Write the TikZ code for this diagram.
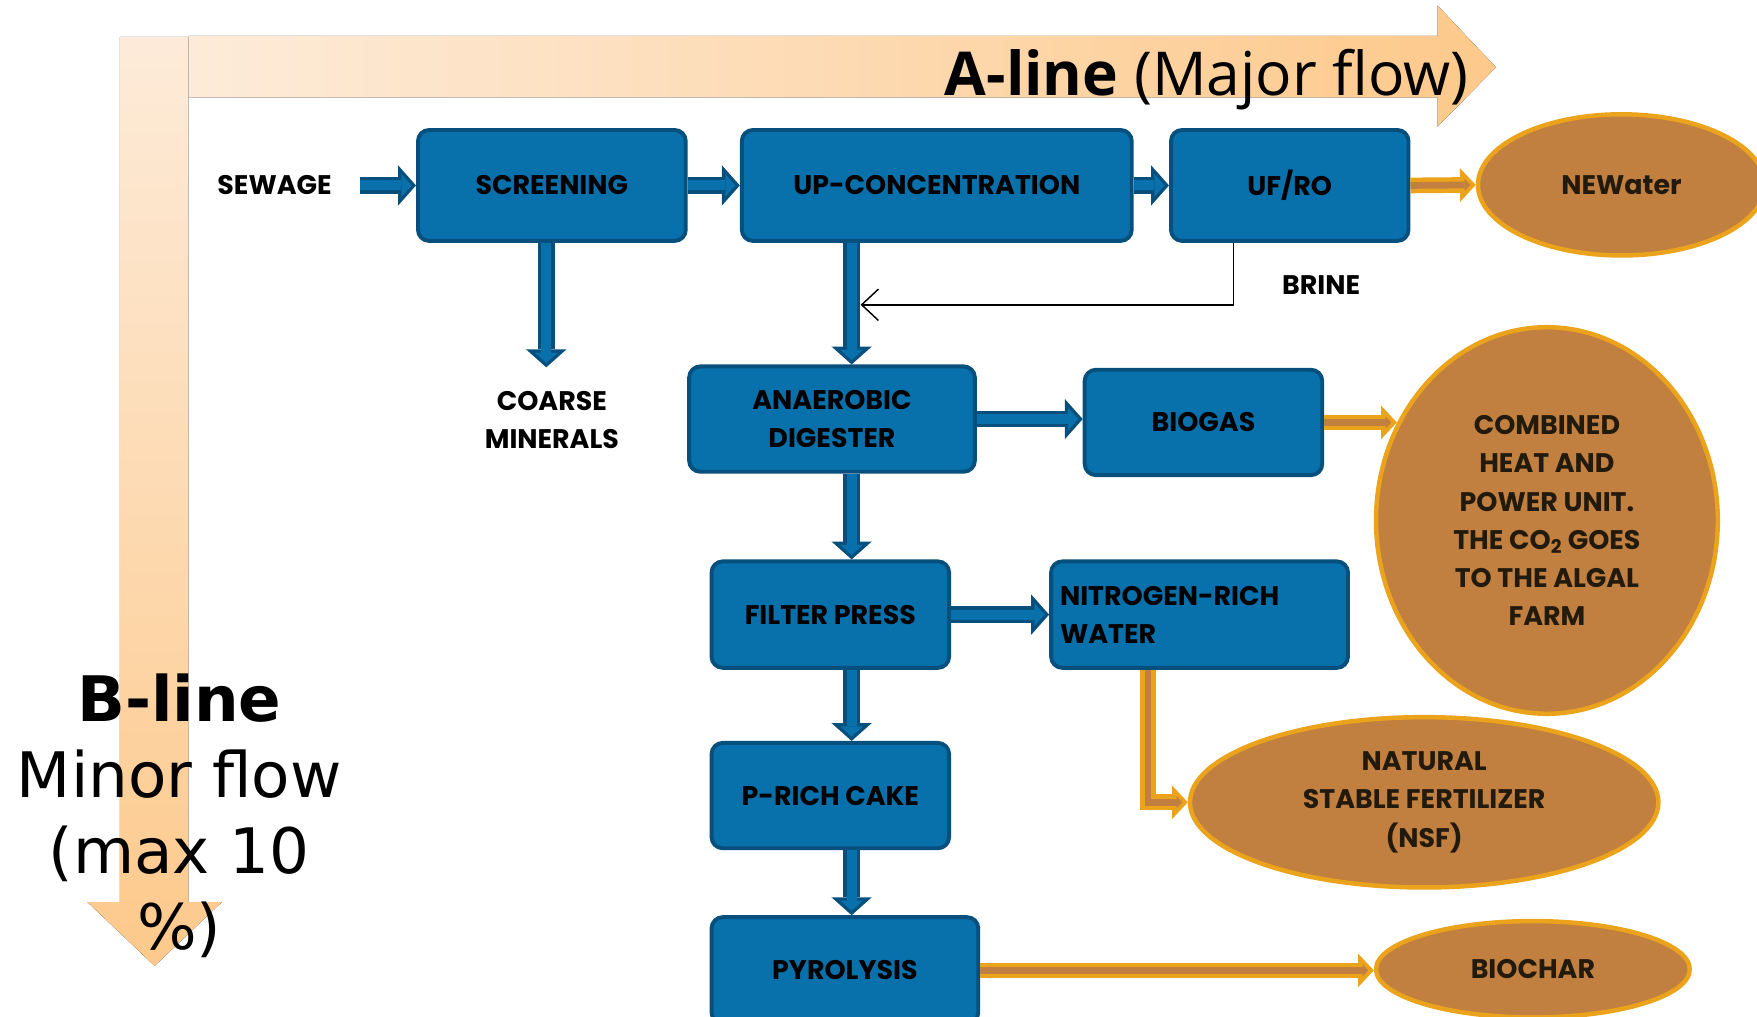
\documentclass[tikz,border=0pt]{standalone}
\usepackage{fontspec}
\setmainfont{Poppins}
\newfontfamily\majorfont{Open Sans}
\newfontfamily\minorfont{DejaVu Sans}
\usetikzlibrary{arrows.meta,shapes.geometric}

\definecolor{boxblue}{HTML}{0870AB}
\definecolor{boxedge}{HTML}{07507E}
\definecolor{ovalfill}{HTML}{C1803F}
\definecolor{ovaledge}{HTML}{EBA31C}
\definecolor{ovaltext}{HTML}{231A0E}
\definecolor{flowpale}{HTML}{FDEBD9}
\definecolor{flowdeep}{HTML}{FDC98B}

\newcommand{\boxfont}{\fontsize{24}{34}\selectfont\bfseries}

\tikzset{
  stage/.style={draw=boxedge, fill=boxblue, line width=3.5pt, rounded corners=10pt,
    font=\boxfont, align=center, inner sep=0pt},
  product/.style={ellipse, draw=ovaledge, fill=ovalfill, line width=4pt, text=ovaltext,
    font=\boxfont, align=center, inner sep=0pt},
  flowtext/.style={font=\boxfont, align=center},
  barrow/.style={draw=boxedge, line width=15pt, -{Triangle[width=36pt,length=16pt,line width=0pt]},
    postaction={draw=boxblue, line width=9pt, shorten >=4pt,
      -{Triangle[width=20pt,length=9pt,line width=0pt]}}},
  oarrow/.style={draw=ovaledge, line width=14pt, -{Triangle[width=30pt,length=14pt,line width=0pt]},
    postaction={draw=ovalfill, line width=6pt, shorten >=5pt,
      -{Triangle[width=11pt,length=5pt,line width=0pt]}}},
  brineline/.style={draw=black, line width=1.3pt, -{Straight Barb[length=15pt,width=28pt]}}
}

\begin{document}
\begin{tikzpicture}[x=1pt, y=-1pt]
  \useasboundingbox (0,0) rectangle (1568,907);
  \clip (0,0) rectangle (1568,907);

  % A-line and B-line
  \fill[left color=flowpale, right color=flowdeep] (168,32) -- (1283,32) -- (1283,5) -- (1335,60)
    -- (1283,113) -- (1283,87) -- (168,87) -- cycle;
  \fill[top color=flowpale, bottom color=flowdeep] (107,33) -- (168,33) -- (168,805) -- (198,805)
    -- (138,862) -- (78,805) -- (107,805) -- cycle;
  \node[anchor=base west, inner sep=0pt, font=\majorfont\fontsize{54}{60}\selectfont] (aline) at (843,85)
    {\textbf{A-line} (Major flow)};
  \node[align=center, font=\minorfont\fontsize{56}{68}\selectfont] (bline) at (160,728)
    {\textbf{B-line}\\Minor flow\\(max 10\\\%)};

  % process
  \node[stage, minimum width=239pt, minimum height=99pt] (screen) at (492.5,165.5) {SCREENING};
  \node[stage, minimum width=348pt, minimum height=99pt] (upc) at (836,165.5) {UP-CONCENTRATION};
  \node[stage, minimum width=212pt, minimum height=99pt] (ufro) at (1151,165.5) {UF/RO};
  \node[product, minimum width=256pt, minimum height=126pt] (newater) at (1447,165) {NEWater};
  \node[flowtext] (sewage) at (245,165.5) {SEWAGE};
  \node[flowtext] (coarse) at (492.5,375) {COARSE\\MINERALS};
  \node[flowtext] (brine) at (1179,254) {BRINE};
  \node[stage, minimum width=255pt, minimum height=94pt] (ad) at (742.5,374) {ANAEROBIC\\DIGESTER};
  \node[stage, minimum width=212pt, minimum height=94pt] (biogas) at (1074,377) {BIOGAS};
  \node[product, minimum width=305pt, minimum height=345pt] (chp) at (1380.5,464.5)
    {COMBINED\\HEAT AND\\POWER UNIT.\\THE CO\textsubscript{2} GOES\\TO THE ALGAL\\FARM};
  \node[stage, minimum width=212pt, minimum height=95pt] (fp) at (741,548.5) {FILTER PRESS};
  \node[stage, minimum width=265pt, minimum height=95pt, text width=249pt, align=left] (nrw)
    at (1070.5,548.5) {NITROGEN-RICH\\WATER};
  \node[product, minimum width=418pt, minimum height=152pt] (nsf) at (1271,716)
    {NATURAL\\STABLE FERTILIZER\\(NSF)};
  \node[stage, minimum width=212pt, minimum height=94pt] (prc) at (741,710) {P-RICH CAKE};
  \node[stage, minimum width=238pt, minimum height=95pt] (pyro) at (754,866) {PYROLYSIS};
  \node[product, minimum width=280pt, minimum height=86pt] (biochar) at (1368,865) {BIOCHAR};

  \coordinate (spine) at (760,0);
  \coordinate (brinejoin) at (768,272);

  % flows
  \draw[barrow] ([xshift=22pt]sewage.east) -- (screen.west);
  \draw[barrow] (screen.east) -- (upc.west);
  \draw[barrow] (upc.east) -- (ufro.west);
  \draw[oarrow] (ufro.east) -- (newater.west);
  \draw[barrow] ([xshift=-5pt]screen.south) -- ([xshift=-5pt,yshift=18pt]coarse.north);
  \draw[barrow] (upc.south -| spine) -- (ad.north -| spine);
  \draw[brineline] ([xshift=-50pt]ufro.south) |- (brinejoin);
  \draw[barrow] (ad.east) -- (ad.east -| biogas.west);
  \draw[oarrow] (biogas.east) -- (biogas.east -| chp.147);
  \draw[barrow] (ad.south -| spine) -- (fp.north -| spine);
  \draw[barrow] (fp.east) -- (nrw.west);
  \draw[oarrow] ([xshift=-46pt]nrw.south) |- (nsf.west);
  \draw[barrow] (fp.south -| spine) -- (prc.north -| spine);
  \draw[barrow] (prc.south -| spine) -- (pyro.north -| spine);
  \draw[oarrow] (pyro.east) -- (pyro.east -| biochar.west);
\end{tikzpicture}
\end{document}
